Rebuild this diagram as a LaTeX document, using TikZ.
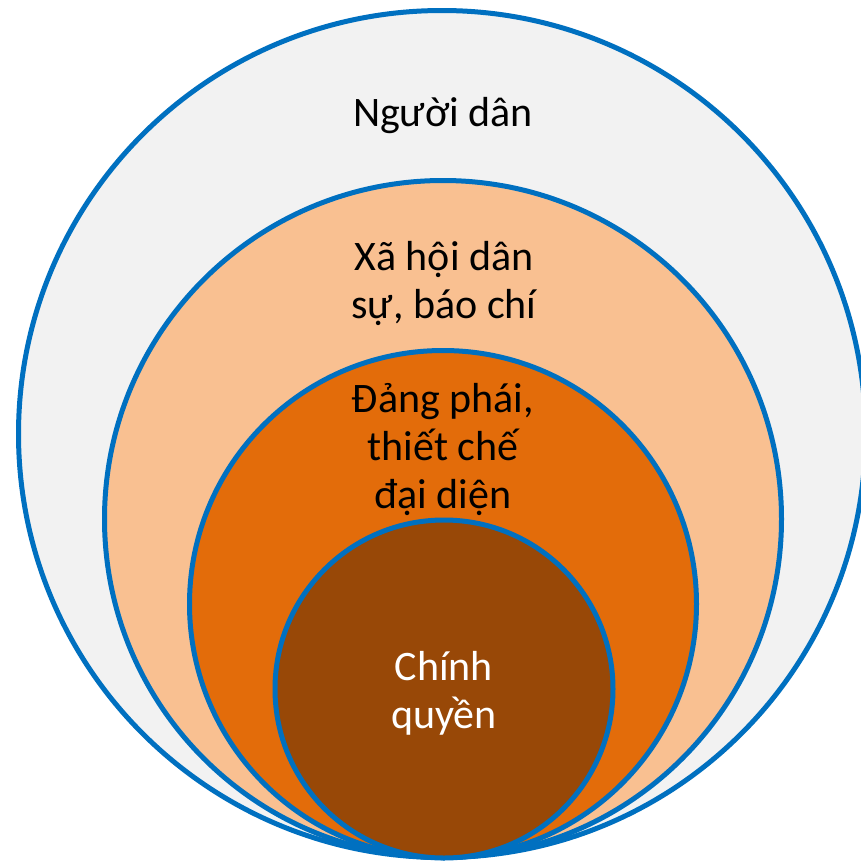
\documentclass[tikz,border=0pt]{standalone}
\usepackage{fontspec}
\setmainfont{Carlito}
\definecolor{ringblue}{HTML}{0070C0}
\definecolor{c1}{HTML}{F2F2F2}
\definecolor{c2}{HTML}{F9C091}
\definecolor{c3}{HTML}{E36C0A}
\definecolor{c4}{HTML}{984807}
\begin{document}
\begin{tikzpicture}[x=1pt,y=-1pt,
  ring/.style={draw=ringblue,line width=5pt},
  lbl/.style={align=center,font=\fontsize{42}{48}\selectfont,inner sep=0pt}]
\useasboundingbox (0,0) rectangle (861,865);
\clip (0,0) rectangle (861,865);
\fill[white] (0,0) rectangle (861,865);
\node[ring,fill=c1,circle,minimum size=847pt,inner sep=0pt] (r1) at (442,434) {};
\node[ring,fill=c2,circle,minimum size=677pt,inner sep=0pt] (r2) at (443,519) {};
\node[ring,fill=c3,circle,minimum size=507pt,inner sep=0pt] (r3) at (443,604) {};
\node[ring,fill=c4,circle,minimum size=338pt,inner sep=0pt] (r4) at (444,689) {};
\node[lbl] (t1) at (443,116) {Người dân};
\node[lbl] (t2) at (444,283) {Xã hội dân\\sự, báo chí};
\node[lbl] (t3) at (443,449) {Đảng phái,\\thiết chế\\đại diện};
\node[lbl,text=white] (t4) at (444,693) {Chính\\quyền};
\end{tikzpicture}
\end{document}
